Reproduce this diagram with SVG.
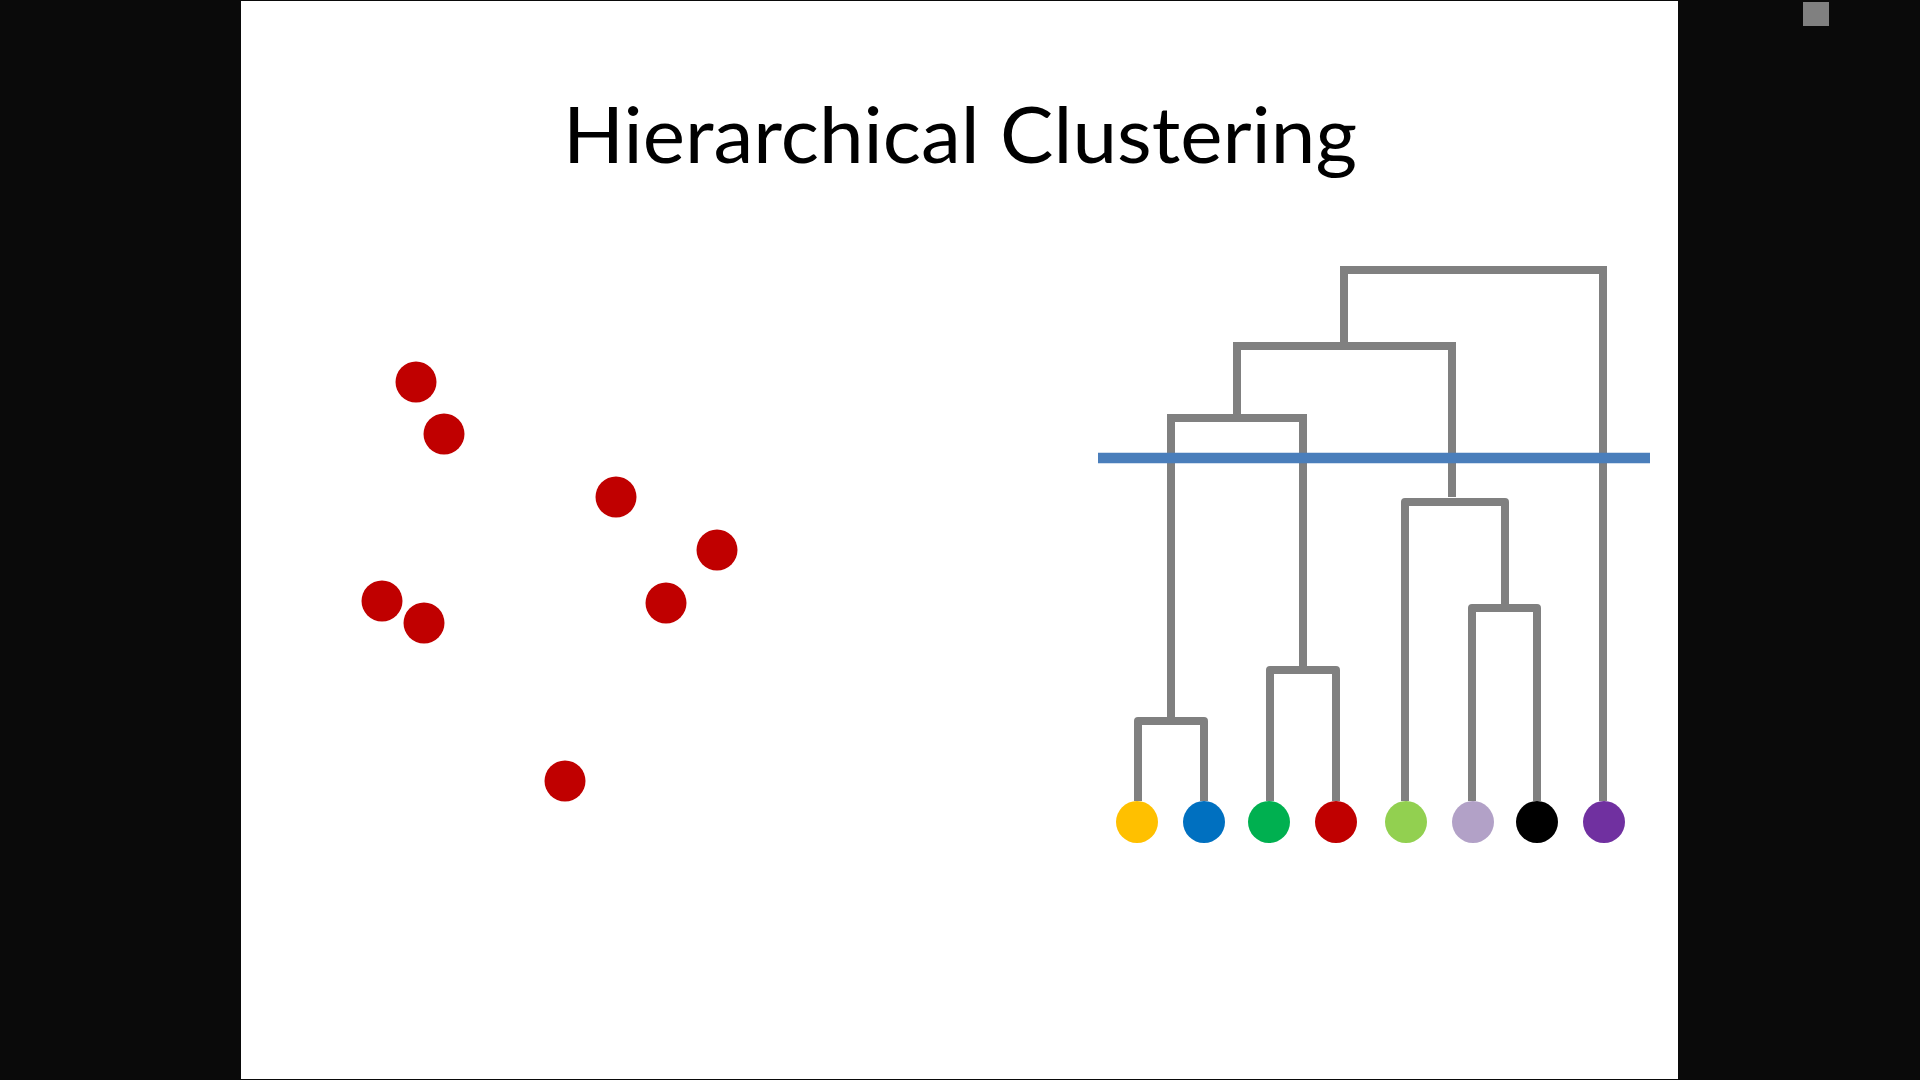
<svg xmlns="http://www.w3.org/2000/svg" width="1920" height="1080" viewBox="0 0 1920 1080">
<style>
.pt{fill:#C00000}
.br{fill:none;stroke:#808080;stroke-width:8}
.sq{stroke-linejoin:miter;stroke-linecap:butt}
.rd{stroke-linejoin:round;stroke-linecap:butt}
.title{font-family:Lato,"Open Sans","Liberation Sans",sans-serif;font-size:77px;fill:#000}
</style>
<rect x="0" y="0" width="1920" height="1080" fill="#0a0a0a"/>
<rect x="241" y="1" width="1437" height="1078" fill="#ffffff"/>
<rect x="1803" y="2" width="26" height="24" fill="#808080"/>
<text class="title" x="960" y="163" text-anchor="middle" textLength="794" lengthAdjust="spacingAndGlyphs">Hierarchical Clustering</text>
<g id="scatter">
<circle class="pt" cx="416" cy="382" r="20.5"/>
<circle class="pt" cx="444" cy="434" r="20.5"/>
<circle class="pt" cx="616" cy="497" r="20.5"/>
<circle class="pt" cx="717" cy="550" r="20.5"/>
<circle class="pt" cx="382" cy="601" r="20.5"/>
<circle class="pt" cx="424" cy="623" r="20.5"/>
<circle class="pt" cx="666" cy="603" r="20.5"/>
<circle class="pt" cx="565" cy="781" r="20.5"/>
</g>
<g id="connectors">
<path class="br sq" d="M1344,346 V270 H1603 V801"/>
<path class="br sq" d="M1237,418 V346 H1452 V497"/>
<path class="br sq" d="M1171,721 V418 H1303 V670"/>
<path class="br rd" d="M1138,801 V721 H1204 V801"/>
<path class="br rd" d="M1270,801 V670 H1336 V801"/>
<path class="br rd" d="M1405,801 V502 H1505 V608"/>
<path class="br rd" d="M1472,801 V608 H1537 V801"/>
<line x1="1098" y1="458" x2="1650" y2="458" stroke="#4A7EBB" stroke-width="10.5"/>
</g>
<g id="leaf-yellow"><circle cx="1137" cy="822" r="21" fill="#FFC000"/></g>
<g id="leaf-blue"><circle cx="1204" cy="822" r="21" fill="#0070C0"/></g>
<g id="leaf-green"><circle cx="1269" cy="822" r="21" fill="#00B050"/></g>
<g id="leaf-red"><circle cx="1336" cy="822" r="21" fill="#C00000"/></g>
<g id="leaf-lightgreen"><circle cx="1406" cy="822" r="21" fill="#92D050"/></g>
<g id="leaf-lilac"><circle cx="1473" cy="822" r="21" fill="#B2A1C7"/></g>
<g id="leaf-black"><circle cx="1537" cy="822" r="21" fill="#000000"/></g>
<g id="leaf-purple"><circle cx="1604" cy="822" r="21" fill="#7030A0"/></g>
</svg>
